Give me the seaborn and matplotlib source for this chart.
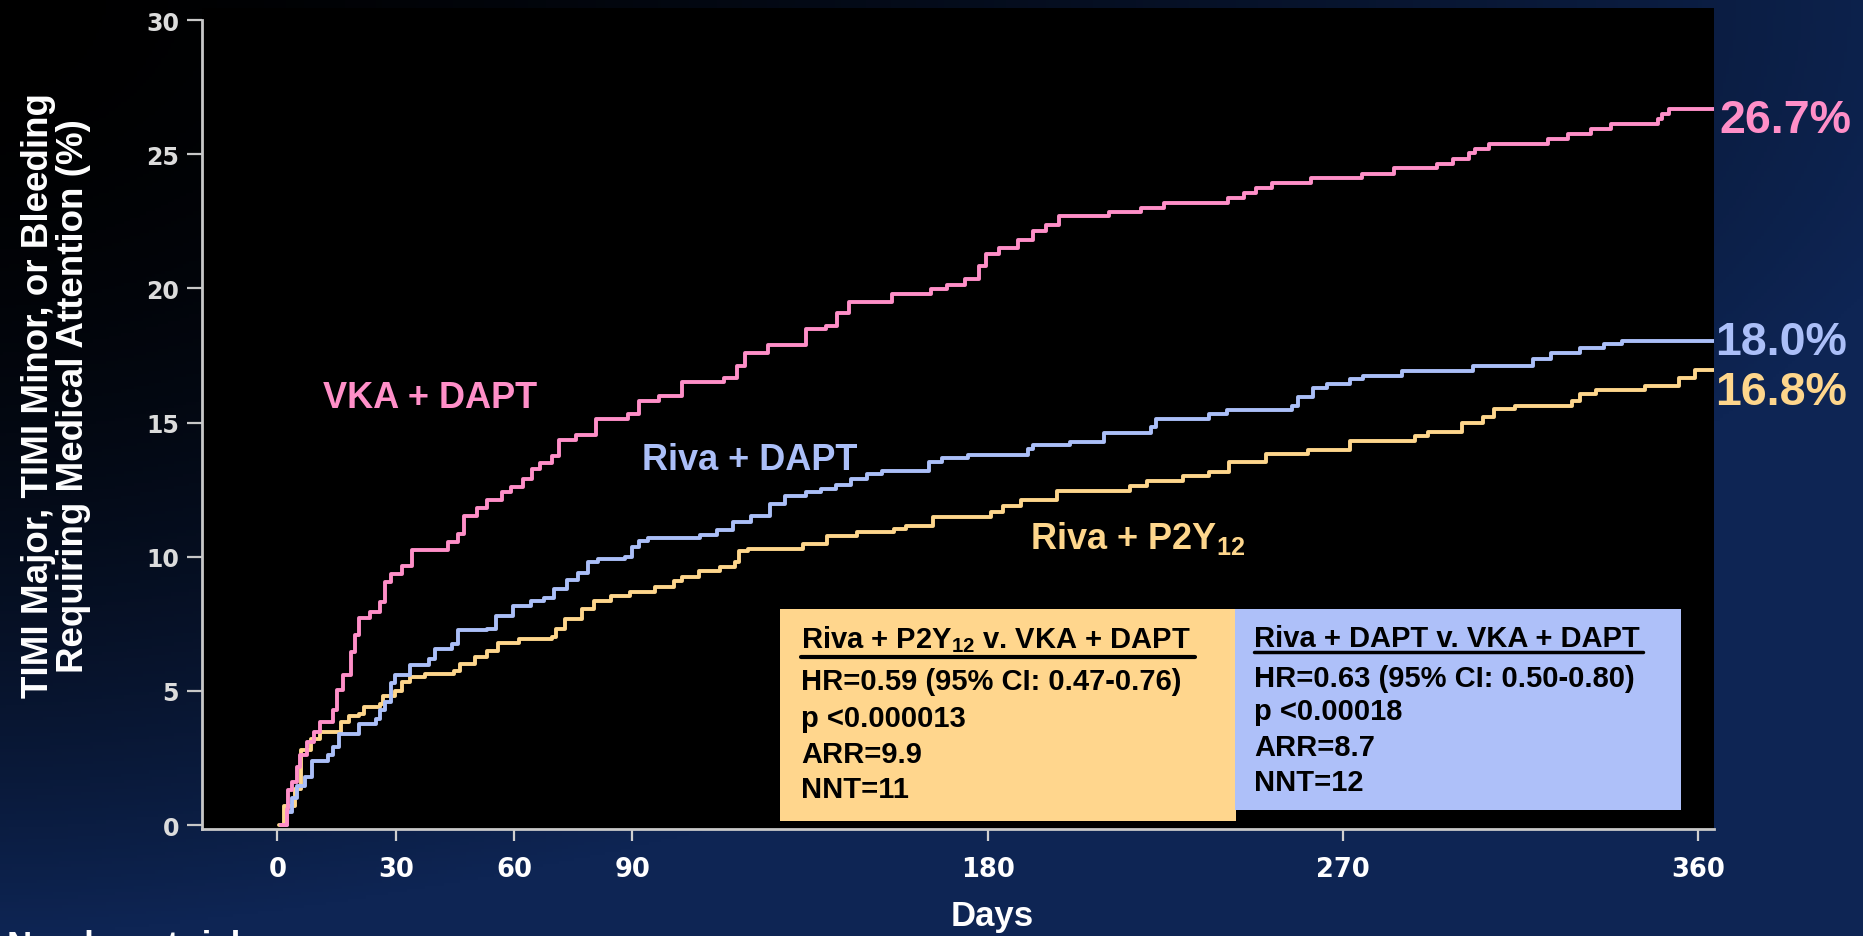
import numpy as np
import pandas as pd
import matplotlib
matplotlib.use("Agg")
import matplotlib.pyplot as plt
import seaborn as sns
from matplotlib.patches import Rectangle
from matplotlib.lines import Line2D

# ---------------- data ----------------
vka_days = [1, 2.4, 2.6, 3.8, 5, 5.8, 7.5, 9.4, 10.8, 14.2,
            15.2, 16.7, 18.6, 19.6, 20.6, 23.5, 25.9, 27.3, 28.8, 31.7,
            34.1, 43.3, 45.8, 47.2, 50.6, 53.1, 56.9, 59.3, 62.3, 64.5,
            66.6, 69.5, 71.3, 75.7, 80.7, 88.8, 91.6, 96.7, 102.6, 113.2,
            116.5, 118.6, 124.4, 133.9, 139, 141.9, 144.8, 155.7, 165.7, 169.7,
            174.4, 177.7, 179.7, 183, 187.6, 191.6, 194.9, 198.2, 210.8, 218.8,
            224.8, 241, 245, 248, 252, 262, 275, 283, 294, 298,
            302, 303.5, 307, 322, 327, 333, 338, 350, 350.8, 352.6, 364]
vka_pct = [0, 0.6, 1.3, 1.6, 2.15, 2.6, 3.1, 3.45, 3.85, 4.3,
           5.05, 5.6, 6.45, 7.1, 7.7, 7.95, 8.3, 9.05, 9.35, 9.65,
           10.25, 10.55, 10.85, 11.5, 11.8, 12.1, 12.4, 12.6, 12.9, 13.25,
           13.5, 13.75, 14.35, 14.55, 15.15, 15.3, 15.8, 16.0, 16.5, 16.65,
           17.1, 17.6, 17.9, 18.5, 18.6, 19.1, 19.5, 19.8, 19.97, 20.13,
           20.35, 20.85, 21.3, 21.5, 21.8, 22.15, 22.35, 22.7, 22.83, 22.98,
           23.2, 23.36, 23.57, 23.74, 23.92, 24.1, 24.28, 24.47, 24.65, 24.81,
           25.04, 25.2, 25.39, 25.56, 25.76, 25.93, 26.13, 26.3, 26.5, 26.7, 26.7]

dapt_days = [1, 2.5, 3.6, 5, 6.9, 8.9, 12.8, 14.2, 15.7, 20.6,
             24.9, 25.9, 27.4, 28.8, 29.8, 33.6, 38.5, 40, 44.3, 45.8,
             53.1, 55.5, 59.8, 64.2, 67.6, 70, 73.3, 76.3, 78.8, 81.2,
             88, 89.9, 91.7, 94, 107, 111.5, 115.5, 120, 124.8, 128.6,
             134, 137.8, 141.7, 145.5, 149.4, 153.2, 165.1, 168.4, 175, 190.2,
             191.6, 200.9, 209.5, 221.4, 222.8, 236, 240.7, 257.2, 258.6, 262.5,
             265.9, 271.8, 275.1, 285, 303, 318.2, 322.8, 330.2, 336.1, 340.7, 364]
dapt_pct = [0, 0.5, 1.0, 1.45, 1.8, 2.4, 2.6, 2.9, 3.4, 3.75,
            3.95, 4.3, 4.6, 5.3, 5.6, 5.95, 6.2, 6.55, 6.75, 7.25,
            7.3, 7.8, 8.15, 8.35, 8.45, 8.8, 9.15, 9.4, 9.8, 9.92,
            10.0, 10.35, 10.6, 10.7, 10.8, 11.0, 11.28, 11.5, 11.95, 12.25,
            12.4, 12.52, 12.67, 12.9, 13.08, 13.2, 13.52, 13.67, 13.8, 14.0,
            14.15, 14.28, 14.6, 14.82, 15.15, 15.3, 15.48, 15.63, 15.94, 16.3,
            16.44, 16.62, 16.75, 16.93, 17.12, 17.37, 17.59, 17.77, 17.93, 18.05, 18.05]

p2y_days = [0.5, 1.6, 4.4, 6, 8.4, 10.8, 16.2, 18.1, 20.6, 22,
            25.9, 26.8, 29.8, 31.7, 33.6, 37.5, 44.8, 46.3, 50.1, 53.1,
            56, 61.3, 69.5, 70.5, 72.9, 77.3, 80.2, 84.6, 89.4, 95.7,
            100.6, 102.5, 106.9, 112.2, 116.1, 117.1, 119.4, 133.2, 139.4, 147,
            156.2, 159.3, 166.2, 180.8, 183.9, 188.5, 197.6, 216.1, 220.5, 229.4,
            236, 241.3, 250.6, 261.2, 271.8, 288.4, 291.7, 300.3, 305.6, 308.3,
            313.6, 328.2, 330.1, 334.1, 346.7, 355.3, 359.3, 364]
p2y_pct = [0, 0.7, 1.35, 2.8, 3.2, 3.48, 3.83, 4.07, 4.14, 4.39,
           4.5, 4.8, 5.0, 5.32, 5.5, 5.63, 5.75, 6.0, 6.25, 6.5,
           6.8, 6.93, 7.0, 7.3, 7.68, 8.05, 8.36, 8.55, 8.67, 8.86,
           9.1, 9.25, 9.45, 9.6, 9.8, 10.22, 10.29, 10.47, 10.78, 10.91,
           11.03, 11.16, 11.48, 11.65, 11.9, 12.1, 12.45, 12.62, 12.83, 13.02,
           13.15, 13.52, 13.83, 13.99, 14.32, 14.51, 14.66, 15.0, 15.2, 15.5,
           15.63, 15.81, 16.06, 16.22, 16.37, 16.65, 16.97, 16.97]

arms = ["Riva + P2Y12", "Riva + DAPT", "VKA + DAPT"]
end_labels = ["16.8%", "18.0%", "26.7%"]
x_ticks = [0, 30, 60, 90, 180, 270, 360]
y_ticks = [0, 5, 10, 15, 20, 25, 30]

box1_lines = ["HR=0.59 (95% CI: 0.47-0.76)", "p <0.000013", "ARR=9.9", "NNT=11"]
box2_lines = ["HR=0.63 (95% CI: 0.50-0.80)", "p <0.00018", "ARR=8.7", "NNT=12"]

PINK = "#ff8fc8"
BLUE = "#abbff8"
GOLD = "#fed68c"
BOX_GOLD = "#ffd68d"
BOX_BLUE = "#aec0f9"
palette = {arms[0]: GOLD, arms[1]: BLUE, arms[2]: PINK}

df = pd.concat([
    pd.DataFrame({"day": p2y_days, "pct": p2y_pct, "arm": arms[0]}),
    pd.DataFrame({"day": dapt_days, "pct": dapt_pct, "arm": arms[1]}),
    pd.DataFrame({"day": vka_days, "pct": vka_pct, "arm": arms[2]}),
], ignore_index=True)

# ---------------- figure ----------------
sns.set_theme(style="dark")
plt.rcParams["font.family"] = ["Liberation Sans", "DejaVu Sans"]
plt.rcParams["font.weight"] = "bold"
plt.rcParams["mathtext.fontset"] = "custom"
plt.rcParams["mathtext.rm"] = "Liberation Sans:bold"
plt.rcParams["mathtext.bf"] = "Liberation Sans:bold"
plt.rcParams["mathtext.it"] = "Liberation Sans:bold"

W, H = 1863, 937
fig = plt.figure(figsize=(W / 100, H / 100), dpi=100)

# slide background gradient (black top-left -> navy)
gy, gx = np.mgrid[0:1:300j, 0:1:600j]
t = np.clip(0.9 * gx ** 1.5 + gy ** 2, 0, 1)
navy = np.array([14, 37, 84]) / 255.0
bgimg = t[..., None] * navy
bg = fig.add_axes([0, 0, 1, 1], zorder=-10)
bg.imshow(bgimg, extent=[0, 1, 0, 1], aspect="auto", origin="upper")
bg.axis("off")

def fx(px):
    return px / W

def fy(py):
    return 1 - py / H

ax = fig.add_axes([fx(202), fy(829.5), fx(1714) - fx(202), fy(9) - fy(829.5)])
ax.set_facecolor("black")

sns.lineplot(data=df, x="day", y="pct", hue="arm", palette=palette,
             estimator=None, drawstyle="steps-post", linewidth=2.8,
             legend=False, ax=ax)

ax.set_xlim(-19.1, 364.1)
ax.set_ylim(-0.13, 30.45)
ax.set_xticks(x_ticks)
ax.set_yticks(y_ticks)
ax.set_xlabel("")
ax.set_ylabel("")
ax.grid(False)
for s in ["top", "right"]:
    ax.spines[s].set_visible(False)
for s in ["left", "bottom"]:
    ax.spines[s].set_visible(True)
    ax.spines[s].set_color("#c8c8c8")
    ax.spines[s].set_linewidth(2.0)
ax.spines["left"].set_bounds(-0.13, 30)
ax.tick_params(axis="y", direction="out", length=11, width=1.6, color="#c8c8c8",
               pad=5.5, labelsize=17, labelcolor="#dcdcdc", left=True,
               labelfontfamily="DejaVu Sans")
ax.tick_params(axis="x", direction="out", length=8.6, width=1.6, color="#d0d0d0",
               pad=11, labelsize=18.5, labelcolor="white", bottom=True,
               labelfontfamily="DejaVu Sans")

# curve labels
ax.text(11.6, 15.57, "VKA + DAPT", color=PINK, fontsize=26, fontweight="bold",
        ha="left", va="baseline")
ax.text(92.4, 13.27, "Riva + DAPT", color=BLUE, fontsize=26, fontweight="bold",
        ha="left", va="baseline")
ax.text(190.7, 10.31, r"Riva + P2Y$_{\mathbf{12}}$", color=GOLD, fontsize=26,
        fontweight="bold", ha="left", va="baseline")

# end-of-follow-up labels
ax.text(365.4, 25.82, end_labels[2], color=PINK, fontsize=33.5, fontweight="bold",
        ha="left", va="baseline", clip_on=False)
ax.text(364.4, 17.55, end_labels[1], color=BLUE, fontsize=33.5, fontweight="bold",
        ha="left", va="baseline", clip_on=False)
ax.text(364.4, 15.69, end_labels[0], color=GOLD, fontsize=33.5, fontweight="bold",
        ha="left", va="baseline", clip_on=False)

# statistics boxes
fig.add_artist(Rectangle((fx(780), fy(821.7)), fx(1236) - fx(780), fy(610) - fy(821.7),
                         transform=fig.transFigure, facecolor=BOX_GOLD, edgecolor="none",
                         zorder=5))
fig.add_artist(Rectangle((fx(1235), fy(811)), fx(1681) - fx(1235), fy(610) - fy(811),
                         transform=fig.transFigure, facecolor=BOX_BLUE, edgecolor="none",
                         zorder=5))

fig.text(fx(801), fy(648.3), r"Riva + P2Y$_{\mathbf{12}}$ v. VKA + DAPT", color="black",
         fontsize=21, fontweight="bold", ha="left", va="baseline", zorder=6)
fig.add_artist(Line2D([fx(801), fx(1195)], [fy(658), fy(658)], transform=fig.transFigure,
                      color="black", linewidth=3.0, zorder=6))
for line, base in zip(box1_lines, [690, 726.7, 763, 798]):
    fig.text(fx(801), fy(base), line, color="black", fontsize=21, fontweight="bold",
             ha="left", va="baseline", zorder=6)

fig.text(fx(1254), fy(646.7), "Riva + DAPT v. VKA + DAPT", color="black",
         fontsize=21, fontweight="bold", ha="left", va="baseline", zorder=6)
fig.add_artist(Line2D([fx(1254), fx(1643)], [fy(652.5), fy(652.5)], transform=fig.transFigure,
                      color="black", linewidth=2.5, zorder=6))
for line, base in zip(box2_lines, [686.7, 720, 756, 790.7]):
    fig.text(fx(1254), fy(base), line, color="black", fontsize=21, fontweight="bold",
             ha="left", va="baseline", zorder=6)

# axis titles
fig.text(fx(56), fy(396),
         "TIMI Major, TIMI Minor, or Bleeding\nRequiring Medical Attention (%)",
         color="white", fontsize=26.5, fontweight="bold", rotation=90,
         ha="center", va="center", multialignment="center", linespacing=1.0)
fig.text(fx(992), fy(926), "Days", color="white", fontsize=25, fontweight="bold",
         ha="center", va="baseline")
fig.text(fx(7), fy(930), "Number at risk", color="white", fontsize=25,
         fontweight="bold", ha="left", va="top")

fig.savefig("out.png", dpi=100, facecolor="black")
